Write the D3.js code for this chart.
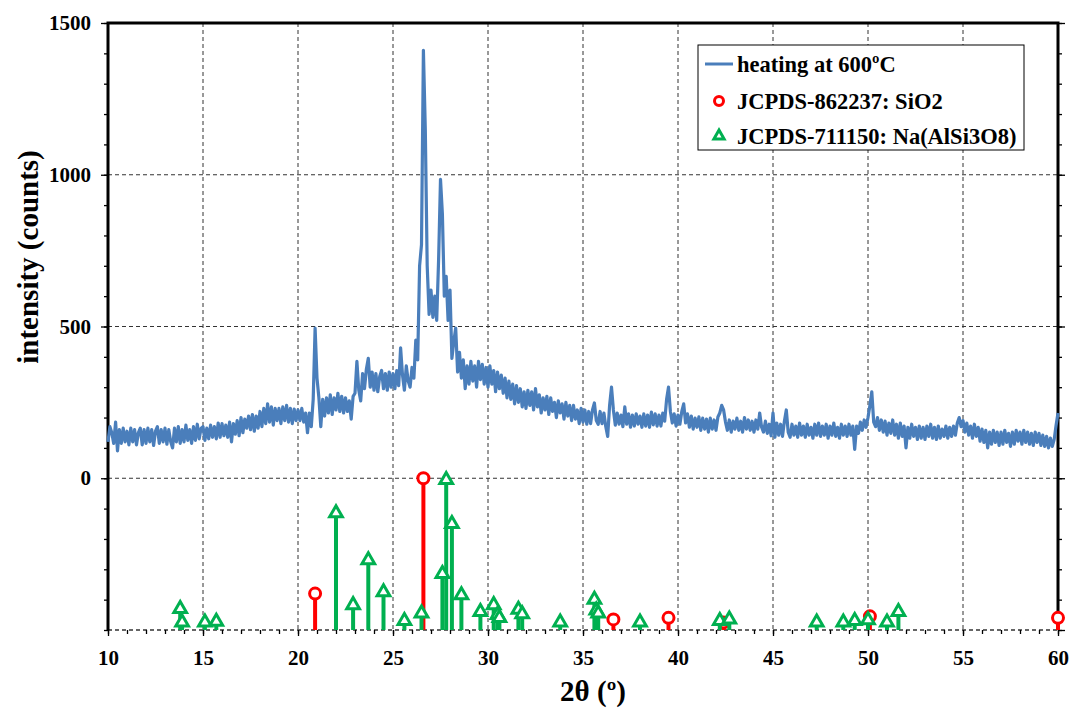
<!DOCTYPE html>
<html>
<head>
<meta charset="utf-8">
<script src="https://cdn.jsdelivr.net/npm/d3@7"></script>
<style>
  body { margin: 0; background: #fff; }
  text { font-family: "Liberation Serif", "Times New Roman", serif; font-weight: bold; }
</style>
</head>
<body>
<div id="container"></div>
<script>
/* CONSTANTS AND GLOBALS */
const width = 1072;
const height = 708;
const margin = { top: 23, right: 14, bottom: 78, left: 108 };
const lineColor = '#4a7ebb';
const sio2Color = '#ff0000';
const albiteColor = '#00b050';

/* DATA */
// measured scan, 10.0 .. 60.0 deg in 0.1 deg steps (one row per degree)
const scanStart = 10;
const scanStep = 0.1;
const counts = [
  120, 170, 150, 115, 185, 90, 160, 115, 165, 120,
  155, 110, 165, 120, 160, 110, 150, 165, 110, 160,
  115, 165, 120, 160, 108, 155, 170, 115, 160, 120,
  165, 112, 160, 120, 100, 165, 120, 170, 115, 160,
  120, 175, 125, 160, 115, 170, 125, 178, 130, 165,
  170, 125, 165, 130, 175, 135, 170, 130, 182, 135,
  180, 140, 175, 135, 185, 120, 180, 145, 190, 140,
  200, 150, 195, 165, 205, 160, 210, 155, 205, 165,
  220, 170, 230, 180, 245, 185, 235, 175, 230, 190,
  230, 180, 235, 190, 240, 185, 230, 180, 228, 190,
  225, 190, 230, 185, 215, 150, 215, 170, 260, 495,
  330, 265, 170, 260, 205, 265, 215, 275, 210, 265,
  225, 280, 220, 270, 215, 265, 220, 255, 195, 270,
  280, 385, 290, 255, 345, 295, 360, 395, 300, 350,
  290, 345, 285, 335, 355, 295, 345, 290, 350, 300,
  345, 295, 355, 305, 430, 340, 290, 370, 320, 300,
  365, 330, 455, 390, 700, 770, 1410, 1150, 700, 540,
  620, 530, 600, 520, 720, 985, 870, 600, 665, 520,
  620, 395, 450, 495, 350, 415, 330, 390, 295, 370,
  310, 385, 320, 370, 300, 385, 325, 375, 310, 365,
  300, 370, 310, 355, 285, 350, 295, 340, 280, 330,
  265, 320, 260, 310, 245, 305, 250, 295, 235, 285,
  230, 290, 240, 285, 225, 295, 235, 275, 215, 265,
  225, 270, 210, 265, 220, 250, 200, 255, 215, 245,
  195, 250, 205, 240, 190, 240, 195, 225, 180, 230,
  185, 225, 178, 220, 180, 225, 248, 190, 178, 220,
  180, 215, 170, 138, 240, 300, 225, 175, 215, 178,
  208, 170, 235, 178, 212, 168, 208, 172, 212, 178,
  205, 168, 212, 172, 208, 168, 218, 176, 212, 172,
  208, 172, 215, 188, 260, 300, 220, 182, 212, 172,
  208, 178, 220, 245, 182, 212, 168, 205, 162, 198,
  168, 202, 158, 198, 162, 195, 152, 198, 162, 192,
  158, 202, 215, 240, 225, 185, 158, 192, 152, 188,
  162, 198, 158, 188, 152, 200, 162, 192, 158, 188,
  152, 192, 162, 215, 168, 152, 188, 148, 178, 140,
  215, 135, 182, 142, 178, 138, 188, 225, 152, 135,
  178, 142, 172, 135, 182, 142, 172, 135, 178, 142,
  168, 132, 178, 142, 182, 138, 172, 142, 178, 132,
  172, 142, 182, 138, 168, 132, 178, 142, 172, 138,
  178, 142, 172, 95, 172, 148, 185, 158, 192, 168,
  200, 240, 285, 185, 170, 200, 158, 192, 152, 188,
  142, 182, 148, 192, 142, 178, 132, 182, 138, 172,
  100, 168, 132, 178, 138, 168, 128, 172, 132, 168,
  128, 172, 138, 178, 132, 168, 128, 172, 132, 162,
  138, 172, 132, 168, 138, 172, 142, 182, 200, 170,
  190, 152, 182, 142, 172, 132, 178, 138, 168, 122,
  162, 118, 158, 100, 152, 112, 158, 118, 152, 108,
  152, 112, 158, 118, 148, 105, 152, 112, 158, 122,
  152, 112, 158, 118, 152, 112, 148, 108, 152, 118,
  148, 108, 142, 105, 138, 100, 132, 105, 128, 175,
  215
];

// reference patterns: peak position (2theta) and relative intensity (%)
const sio2Angles = [20.9, 26.6, 36.6, 39.5, 42.4, 50.1, 60.0];
const sio2Intensity = [24, 100, 7, 8, 5, 9, 8];

const albiteAngles = [13.8, 13.9, 15.1, 15.7, 22.0, 22.9, 23.7, 24.5, 25.6, 26.5,
  27.6, 27.8, 28.1, 28.6, 29.6, 30.3, 30.5, 30.6, 31.6, 31.8,
  33.8, 35.6, 35.7, 35.8, 38.0, 42.2, 42.7, 47.3, 48.7, 49.3,
  50.0, 51.0, 51.6];
const albiteIntensity = [14, 5, 5, 5.5, 77, 16.5, 46, 25, 6, 11,
  37, 99, 70, 23, 12, 16.5, 10, 8, 13.5, 10.5,
  5, 20, 13, 11, 5, 6, 7, 5, 5, 6,
  6.5, 5, 12];

const xTicks = [10, 15, 20, 25, 30, 35, 40, 45, 50, 55, 60];
const yTicks = [0, 500, 1000, 1500];

const legendLabels = ['heating at 600ºC', 'JCPDS-862237: SiO2', 'JCPDS-711150: Na(AlSi3O8)'];

/* SCALES */
const xScale = d3.scaleLinear()
  .domain([10, 60])
  .range([margin.left, width - margin.right]);

const yScale = d3.scaleLinear()
  .domain([-500, 1500])
  .range([height - margin.bottom, margin.top]);

// pattern sticks live in the band below zero: 0% at -500, 100% at 0
const relScale = d3.scaleLinear()
  .domain([0, 100])
  .range([yScale(-500), yScale(0)]);

const x0 = margin.left, x1 = width - margin.right;
const y0 = height - margin.bottom, y1 = margin.top;

/* HTML ELEMENTS */
const svg = d3.select('#container')
  .append('svg')
  .attr('width', width)
  .attr('height', height)
  .style('background-color', 'white');

// grid
const grid = svg.append('g')
  .attr('stroke', '#333')
  .attr('stroke-width', 1)
  .attr('stroke-dasharray', '4,3');

grid.selectAll('.vgrid')
  .data(xTicks.slice(1, -1))
  .join('line')
  .attr('class', 'vgrid')
  .attr('x1', d => xScale(d)).attr('x2', d => xScale(d))
  .attr('y1', y1).attr('y2', y0);

grid.selectAll('.hgrid')
  .data([-500, 0, 500, 1000])
  .join('line')
  .attr('class', 'hgrid')
  .attr('x1', x0).attr('x2', x1)
  .attr('y1', d => yScale(d)).attr('y2', d => yScale(d))
  .attr('stroke-width', d => d === -500 ? 1.6 : 1);

// axes with minor ticks
const yMinor = d3.range(-500, 1501, 100);
const xMinor = d3.range(10, 60.5, 1);

svg.append('g')
  .attr('transform', `translate(${x0},0)`)
  .call(d3.axisLeft(yScale).tickValues(yMinor).tickSize(4).tickFormat(''))
  .call(g => g.select('.domain').remove());

svg.append('g')
  .attr('transform', `translate(${x0},0)`)
  .call(d3.axisLeft(yScale).tickValues(yTicks).tickSize(7).tickPadding(10).tickFormat(d3.format('d')))
  .call(g => g.select('.domain').remove())
  .call(g => g.selectAll('text').attr('font-size', 21).attr('fill', '#000'));

svg.append('g')
  .attr('transform', `translate(${x1},0)`)
  .call(d3.axisRight(yScale).tickValues(yMinor).tickSize(4).tickFormat(''))
  .call(g => g.select('.domain').remove());

svg.append('g')
  .attr('transform', `translate(${x1},0)`)
  .call(d3.axisRight(yScale).tickValues(yTicks.concat([-500])).tickSize(7).tickFormat(''))
  .call(g => g.select('.domain').remove());

svg.append('g')
  .attr('transform', `translate(0,${y0})`)
  .call(d3.axisBottom(xScale).tickValues(xMinor).tickSize(4).tickFormat(''))
  .call(g => g.select('.domain').remove());

svg.append('g')
  .attr('transform', `translate(0,${y0})`)
  .call(d3.axisBottom(xScale).tickValues(xTicks).tickSize(6).tickPadding(14))
  .call(g => g.select('.domain').remove())
  .call(g => g.selectAll('text').attr('font-size', 21).attr('fill', '#000'));

svg.selectAll('.tick line').attr('stroke', '#000').attr('stroke-width', 1.3);

// frame: left, right, top solid
svg.append('path')
  .attr('d', `M${x0},${y0}V${y1}H${x1}V${y0}`)
  .attr('fill', 'none')
  .attr('stroke', '#000')
  .attr('stroke-width', 3);

/* XRD CURVE */
const scan = counts.map((c, i) => ({ angle: scanStart + i * scanStep, count: c }));

const line = d3.line()
  .x(d => xScale(d.angle))
  .y(d => yScale(d.count));

svg.append('path')
  .datum(scan)
  .attr('fill', 'none')
  .attr('stroke', lineColor)
  .attr('stroke-width', 3.2)
  .attr('stroke-linejoin', 'round')
  .attr('d', line);

/* REFERENCE STICKS */
const sio2 = sio2Angles.map((a, i) => ({ angle: a, rel: sio2Intensity[i] }));
const albite = albiteAngles.map((a, i) => ({ angle: a, rel: albiteIntensity[i] }));

const sticks = (data, color) => {
  svg.append('g')
    .attr('stroke', color)
    .attr('stroke-width', 4)
    .selectAll('line')
    .data(data)
    .join('line')
    .attr('x1', d => xScale(d.angle)).attr('x2', d => xScale(d.angle))
    .attr('y1', relScale(0)).attr('y2', d => relScale(d.rel));
};

sticks(sio2, sio2Color);
svg.append('g')
  .selectAll('circle')
  .data(sio2)
  .join('circle')
  .attr('cx', d => xScale(d.angle))
  .attr('cy', d => relScale(d.rel))
  .attr('r', 5.5)
  .attr('fill', 'white')
  .attr('stroke', sio2Color)
  .attr('stroke-width', 3);

sticks(albite, albiteColor);
const tri = d3.symbol().type(d3.symbolTriangle).size(70);
svg.append('g')
  .selectAll('path')
  .data(albite)
  .join('path')
  .attr('transform', d => `translate(${xScale(d.angle)},${relScale(d.rel)})`)
  .attr('d', tri)
  .attr('fill', 'white')
  .attr('stroke', albiteColor)
  .attr('stroke-width', 3)
  .attr('stroke-linejoin', 'miter');

/* AXIS TITLES */
svg.append('text')
  .attr('x', (x0 + x1) / 2 + 10)
  .attr('y', 701)
  .attr('text-anchor', 'middle')
  .attr('font-size', 29)
  .text('2θ (º)');

svg.append('text')
  .attr('transform', `translate(38,257) rotate(-90)`)
  .attr('text-anchor', 'middle')
  .attr('font-size', 29)
  .text('intensity (counts)');

/* LEGEND */
const legend = svg.append('g').attr('transform', 'translate(698,45)');

legend.append('rect')
  .attr('width', 326)
  .attr('height', 105)
  .attr('fill', 'white')
  .attr('stroke', '#000')
  .attr('stroke-width', 1);

const rowY = [19, 56, 91];

legend.append('line')
  .attr('x1', 7).attr('x2', 35)
  .attr('y1', rowY[0]).attr('y2', rowY[0])
  .attr('stroke', lineColor).attr('stroke-width', 3);

legend.append('circle')
  .attr('cx', 21).attr('cy', rowY[1]).attr('r', 4.5)
  .attr('fill', 'white').attr('stroke', sio2Color).attr('stroke-width', 3);

legend.append('path')
  .attr('transform', `translate(21,${rowY[2]})`)
  .attr('d', d3.symbol().type(d3.symbolTriangle).size(45))
  .attr('fill', 'white').attr('stroke', albiteColor).attr('stroke-width', 3);

legend.selectAll('.lbl')
  .data(legendLabels)
  .join('text')
  .attr('class', 'lbl')
  .attr('x', 39)
  .attr('y', (d, i) => rowY[i])
  .attr('dy', '0.35em')
  .attr('font-size', 22.5)
  .text(d => d);
</script>
</body>
</html>
